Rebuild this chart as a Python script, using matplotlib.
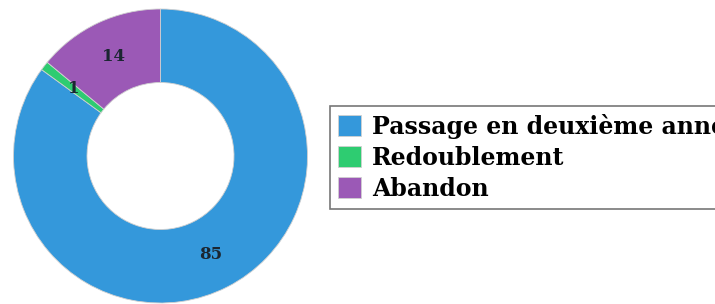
import matplotlib
matplotlib.use("Agg")
import matplotlib.pyplot as plt
import numpy as np

# Data
labels = ["Passage en deuxième année", "Redoublement", "Abandon"]
values = [85, 1, 14]
colors = ["#3498db", "#2ecc71", "#9b59b6"]

plt.rcParams['font.family'] = ['DejaVu Serif']

fig = plt.figure(figsize=(7.15, 3.04), dpi=100)
W, H = 715, 304
cx, cy, r = 160.5, 156, 147
ax = fig.add_axes([(cx - r) / W, (H - cy - r) / H, 2 * r / W, 2 * r / H])

wedges, texts = ax.pie(values, colors=colors, startangle=90, counterclock=False,
                       radius=1, wedgeprops=dict(width=0.5, edgecolor="#d0d0d0", linewidth=0.6))

# value labels at the middle of the ring
for v, w in zip(values, wedges):
    mid = np.deg2rad((w.theta1 + w.theta2) / 2)
    ax.text(0.75 * np.cos(mid), 0.75 * np.sin(mid), str(v), ha="center", va="center",
            fontsize=12, fontweight="bold", color="#1b2631")

ax.set_xlim(-1, 1)
ax.set_ylim(-1, 1)
ax.set_aspect("equal")
ax.axis("off")

leg = fig.legend(wedges, labels, loc="upper left",
                 bbox_to_anchor=(330 / W, 1 - 106 / H),
                 prop=dict(size=17, weight="bold"),
                 frameon=True, fancybox=False, edgecolor="#555555",
                 handlelength=1.0, handleheight=1.0, handletextpad=0.45,
                 labelspacing=0.3, borderpad=0.33, borderaxespad=0)
leg.get_frame().set_linewidth(1.2)

fig.savefig("out.png", dpi=100)
